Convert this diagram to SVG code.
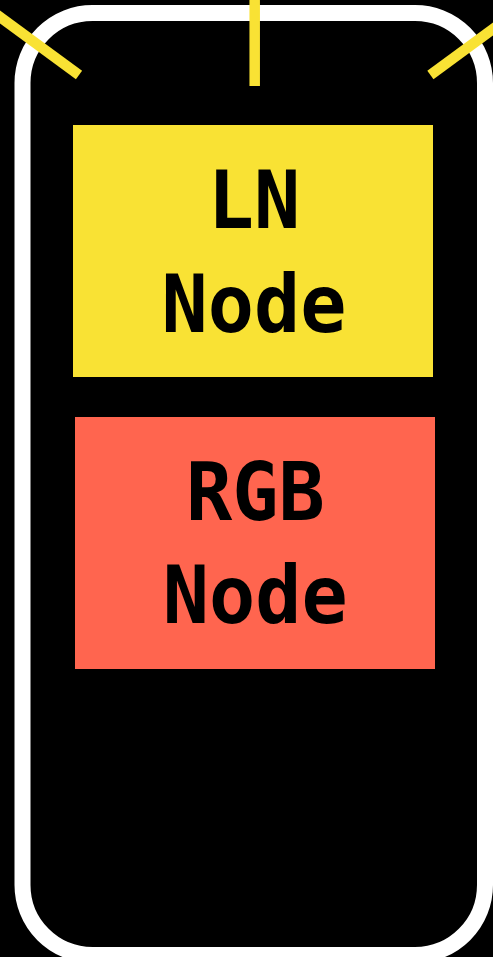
<svg xmlns="http://www.w3.org/2000/svg" width="493" height="957" viewBox="0 0 493 957">
  <style>
    .frame { fill: none; stroke: #ffffff; stroke-width: 16; }
    .ray { stroke: #F9E234; stroke-width: 10.5; stroke-linecap: butt; fill: none; }
    .label { font-family: "DejaVu Sans Mono", "Liberation Mono", monospace; font-weight: bold; font-size: 80px; fill: #000000; text-anchor: middle; }
  </style>
  <rect x="0" y="0" width="493" height="957" fill="#000000"/>
  <!-- device frame -->
  <rect class="frame" x="22.5" y="13" width="462.5" height="942" rx="70" ry="70"/>
  <!-- rays from the top edge -->
  <g id="connectors">
    <line class="ray" x1="254.7" y1="-2" x2="254.7" y2="86"/>
    <line class="ray" x1="-20" y1="2.3" x2="79" y2="75"/>
    <line class="ray" x1="529.4" y1="2.3" x2="430.4" y2="75"/>
  </g>
  <g id="ln-node">
    <rect x="73" y="125" width="360" height="252" fill="#F9E234"/>
    <g transform="translate(254 0) scale(0.96 1)">
      <text class="label" x="0" y="228.5">LN</text>
      <text class="label" x="0" y="331.7">Node</text>
    </g>
  </g>
  <g id="rgb-node">
    <rect x="75" y="417" width="360" height="252" fill="#FF654F"/>
    <g transform="translate(255.3 0) scale(0.96 1)">
      <text class="label" x="0" y="520">RGB</text>
      <text class="label" x="0" y="623.3">Node</text>
    </g>
  </g>
</svg>
